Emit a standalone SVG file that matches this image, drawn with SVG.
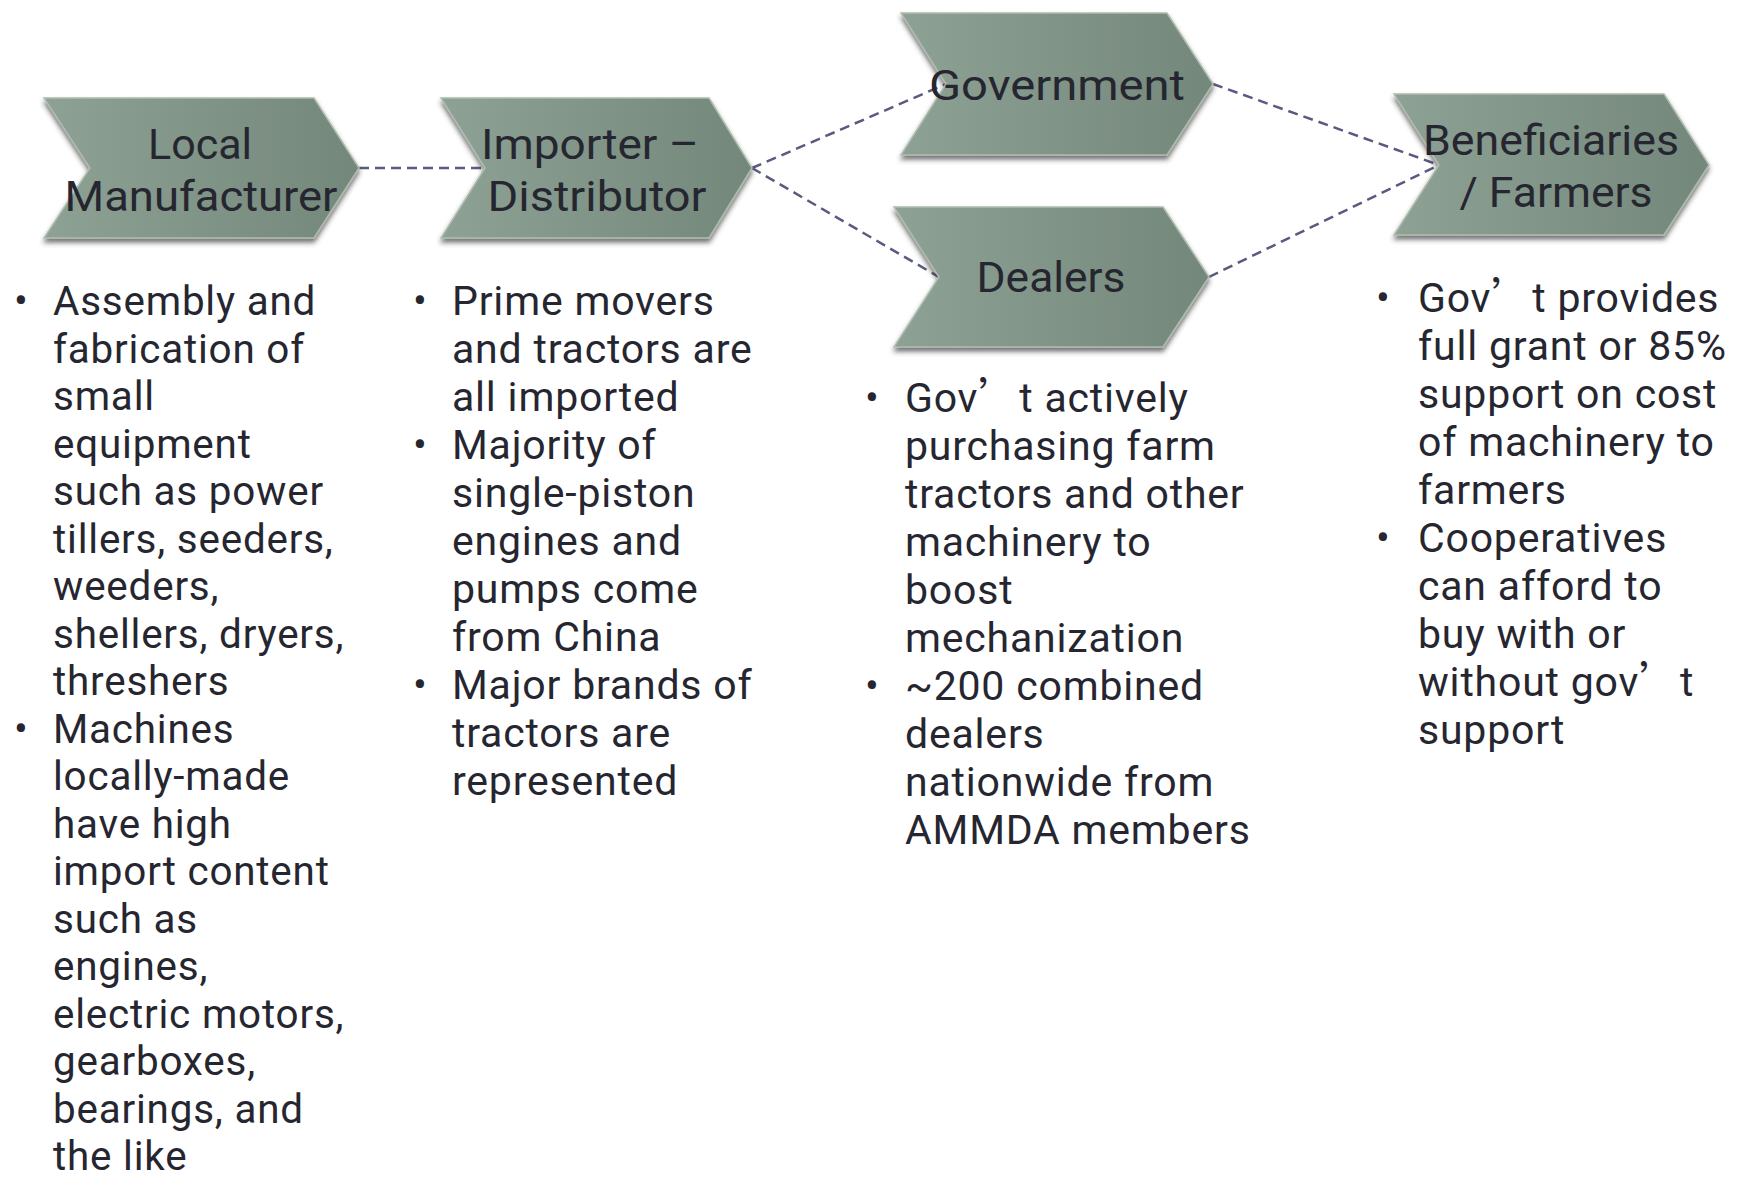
<svg xmlns="http://www.w3.org/2000/svg" width="1742" height="1181" viewBox="0 0 1742 1181">
<defs>
<linearGradient id="g" x1="0" y1="0" x2="1" y2="0">
<stop offset="0" stop-color="#8da194"/>
<stop offset="1" stop-color="#73877a"/>
</linearGradient>
<filter id="sh" x="-10%" y="-10%" width="120%" height="130%">
<feDropShadow dx="0" dy="4" stdDeviation="2.5" flood-color="#2a2a2a" flood-opacity="0.65"/>
</filter>
<style>
.chev{fill:url(#g);stroke:#aebcae;stroke-width:1.5;filter:url(#sh)}
.lbl{font-family:Roboto,"Noto Sans","DejaVu Sans",sans-serif;font-size:43px;fill:#262630;text-anchor:middle}
.body{font-family:Roboto,"Noto Sans","DejaVu Sans",sans-serif;font-size:41px;letter-spacing:0.8px;fill:#262630}
.c1{font-size:40.4px}
.bul{font-family:Roboto,"DejaVu Sans",sans-serif;font-size:41px;fill:#262630;text-anchor:middle}
.cjk{font-family:"Noto Sans CJK SC","Noto Sans CJK JP",sans-serif;letter-spacing:0}
.conn{fill:none;stroke:#5a5a80;stroke-width:2.5;stroke-dasharray:10 6}
</style>
</defs>
<rect width="1742" height="1181" fill="#ffffff"/>
<g id="connectors">
<line class="conn" x1="359" y1="168" x2="485" y2="168"/>
<line class="conn" x1="752" y1="168" x2="946" y2="84"/>
<line class="conn" x1="752" y1="168" x2="939" y2="277"/>
<line class="conn" x1="1213" y1="84" x2="1439" y2="165"/>
<line class="conn" x1="1209" y1="277" x2="1439" y2="165"/>
</g>
<g id="local-manufacturer">
<path class="chev" d="M44,98 L314,98 L359,168 L314,238 L44,238 L90,168 Z"/>
<text class="lbl" x="200" y="159" textLength="104" lengthAdjust="spacingAndGlyphs">Local</text>
<text class="lbl" x="201" y="211" textLength="273" lengthAdjust="spacingAndGlyphs">Manufacturer</text>
</g>
<g id="importer-distributor">
<path class="chev" d="M441,98 L709,98 L752,168 L709,238 L441,238 L485,168 Z"/>
<text class="lbl" x="590" y="159" textLength="218" lengthAdjust="spacingAndGlyphs">Importer –</text>
<text class="lbl" x="597" y="211" textLength="219" lengthAdjust="spacingAndGlyphs">Distributor</text>
</g>
<g id="government">
<path class="chev" d="M901,13 L1167,13 L1213,84 L1167,155 L901,155 L946,84 Z"/>
<text class="lbl" x="1057" y="100" textLength="256" lengthAdjust="spacingAndGlyphs">Government</text>
</g>
<g id="dealers">
<path class="chev" d="M894,207 L1163,207 L1209,277 L1163,347 L894,347 L939,277 Z"/>
<text class="lbl" x="1051" y="292" textLength="149" lengthAdjust="spacingAndGlyphs">Dealers</text>
</g>
<g id="beneficiaries-farmers">
<path class="chev" d="M1394,94 L1664,94 L1709,165 L1664,235 L1394,235 L1439,165 Z"/>
<text class="lbl" x="1551" y="155" textLength="256" lengthAdjust="spacingAndGlyphs">Beneficiaries</text>
<text class="lbl" x="1556" y="207" textLength="193" lengthAdjust="spacingAndGlyphs">/ Farmers</text>
</g>
<g id="local-manufacturer-notes">
<text class="bul" x="21" y="315">•</text>
<text class="bul" x="21" y="742.5">•</text>
<text class="body c1" x="53" y="315">Assembly and</text>
<text class="body c1" x="53" y="362.5">fabrication of</text>
<text class="body c1" x="53" y="410">small</text>
<text class="body c1" x="53" y="457.5">equipment</text>
<text class="body c1" x="53" y="505">such as power</text>
<text class="body c1" x="53" y="552.5">tillers, seeders,</text>
<text class="body c1" x="53" y="600">weeders,</text>
<text class="body c1" x="53" y="647.5">shellers, dryers,</text>
<text class="body c1" x="53" y="695">threshers</text>
<text class="body c1" x="53" y="742.5">Machines</text>
<text class="body c1" x="53" y="790">locally-made</text>
<text class="body c1" x="53" y="837.5">have high</text>
<text class="body c1" x="53" y="885">import content</text>
<text class="body c1" x="53" y="932.5">such as</text>
<text class="body c1" x="53" y="980">engines,</text>
<text class="body c1" x="53" y="1027.5">electric motors,</text>
<text class="body c1" x="53" y="1075">gearboxes,</text>
<text class="body c1" x="53" y="1122.5">bearings, and</text>
<text class="body c1" x="53" y="1170">the like</text>
</g>
<g id="importer-notes">
<text class="bul" x="420" y="315">•</text>
<text class="bul" x="420" y="459">•</text>
<text class="bul" x="420" y="699">•</text>
<text class="body" x="452" y="315">Prime movers</text>
<text class="body" x="452" y="363">and tractors are</text>
<text class="body" x="452" y="411">all imported</text>
<text class="body" x="452" y="459">Majority of</text>
<text class="body" x="452" y="507">single-piston</text>
<text class="body" x="452" y="555">engines and</text>
<text class="body" x="452" y="603">pumps come</text>
<text class="body" x="452" y="651">from China</text>
<text class="body" x="452" y="699">Major brands of</text>
<text class="body" x="452" y="747">tractors are</text>
<text class="body" x="452" y="795">represented</text>
</g>
<g id="dealers-notes">
<text class="bul" x="872" y="412">•</text>
<text class="bul" x="872" y="700">•</text>
<text class="body" x="905" y="412">Gov<tspan class="cjk">’</tspan>t actively</text>
<text class="body" x="905" y="460">purchasing farm</text>
<text class="body" x="905" y="508">tractors and other</text>
<text class="body" x="905" y="556">machinery to</text>
<text class="body" x="905" y="604">boost</text>
<text class="body" x="905" y="652">mechanization</text>
<text class="body" x="905" y="700">~200 combined</text>
<text class="body" x="905" y="748">dealers</text>
<text class="body" x="905" y="796">nationwide from</text>
<text class="body" x="905" y="844">AMMDA members</text>
</g>
<g id="beneficiaries-notes">
<text class="bul" x="1383" y="312">•</text>
<text class="bul" x="1383" y="552">•</text>
<text class="body" x="1418" y="312">Gov<tspan class="cjk">’</tspan>t provides</text>
<text class="body" x="1418" y="360">full grant or 85%</text>
<text class="body" x="1418" y="408">support on cost</text>
<text class="body" x="1418" y="456">of machinery to</text>
<text class="body" x="1418" y="504">farmers</text>
<text class="body" x="1418" y="552">Cooperatives</text>
<text class="body" x="1418" y="600">can afford to</text>
<text class="body" x="1418" y="648">buy with or</text>
<text class="body" x="1418" y="696">without gov<tspan class="cjk">’</tspan>t</text>
<text class="body" x="1418" y="744">support</text>
</g>
</svg>
